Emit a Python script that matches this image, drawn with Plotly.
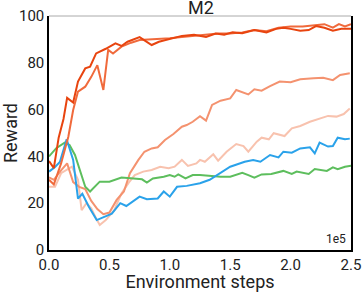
import plotly.graph_objects as go

# x in units of 1e5 environment steps
red_x = [0, 0.04, 0.08, 0.12, 0.15, 0.2, 0.24, 0.30, 0.34, 0.39, 0.47, 0.55, 0.60, 0.65, 0.75, 0.85, 0.91, 0.99, 1.1, 1.2, 1.3, 1.38, 1.45, 1.52, 1.6, 1.7, 1.8, 1.88, 1.94, 2.0, 2.08, 2.15, 2.21, 2.28, 2.35, 2.42, 2.5]
red_y = [38, 35, 48, 56, 65, 63, 72, 77.6, 78.3, 84, 86, 88.3, 87.2, 89, 91, 87.6, 89, 90, 91.5, 92, 91, 92.5, 92, 93, 92.6, 94, 93, 94.5, 95, 94.5, 93.7, 94, 95.7, 95, 93.7, 94.5, 94.5]

org_x = [0, 0.04, 0.1, 0.13, 0.16, 0.2, 0.24, 0.3, 0.35, 0.4, 0.45, 0.49, 0.53, 0.6, 0.68, 0.75, 0.86, 1.0, 1.1, 1.2, 1.3, 1.4, 1.5, 1.6, 1.7, 1.8, 1.9, 2.0, 2.1, 2.2, 2.28, 2.35, 2.4, 2.45, 2.5]
org_y = [30, 28, 37, 43, 48.4, 59.8, 67.7, 69.8, 74, 79, 68.4, 85.5, 84, 86.9, 88.6, 89.7, 90, 90.5, 91, 91.5, 92, 92.5, 92.5, 93, 94, 93.5, 95, 95.5, 95.5, 96, 96.5, 95, 96.5, 95.5, 96.5]

mid_x = [0, 0.04, 0.1, 0.15, 0.2, 0.25, 0.3, 0.35, 0.4, 0.45, 0.5, 0.56, 0.62, 0.67, 0.74, 0.79, 0.85, 0.9, 0.96, 1.03, 1.1, 1.14, 1.19, 1.25, 1.3, 1.35, 1.42, 1.5, 1.55, 1.65, 1.7, 1.76, 1.83, 1.91, 2.0, 2.08, 2.19, 2.27, 2.35, 2.41, 2.49]
mid_y = [31, 30, 34, 37, 29, 27, 26, 21, 17.5, 15.3, 16, 21.4, 25, 32.8, 38.5, 42, 43.4, 43.9, 47, 49.6, 52.7, 53.4, 54.8, 57.2, 55.3, 62, 63.8, 64.8, 68.4, 66.5, 68.7, 68.1, 70, 72, 71.7, 73, 73.4, 73.6, 72.6, 74.8, 75.5]

lt_x = [0, 0.05, 0.1, 0.15, 0.19, 0.24, 0.27, 0.31, 0.35, 0.39, 0.42, 0.47, 0.54, 0.6, 0.66, 0.71, 0.78, 0.85, 0.92, 0.99, 1.04, 1.1, 1.15, 1.22, 1.25, 1.29, 1.36, 1.4, 1.47, 1.55, 1.61, 1.65, 1.72, 1.76, 1.82, 1.86, 1.91, 1.95, 2.01, 2.08, 2.16, 2.24, 2.31, 2.38, 2.44, 2.49]
lt_y = [27, 27, 32.8, 34.5, 35.6, 30, 17, 20, 17.8, 13.5, 10.7, 12.8, 17, 24.2, 28.8, 32, 33.5, 34.2, 35.6, 34.9, 35.6, 38.5, 35.9, 37, 38.5, 37.7, 40.9, 38.2, 42, 45.3, 44.4, 42, 46.3, 48, 47.3, 49.9, 49.1, 48.7, 52, 53, 54.8, 56.3, 57.3, 57, 58.1, 60.5]

blue_x = [0, 0.05, 0.09, 0.146, 0.2, 0.24, 0.276, 0.33, 0.395, 0.45, 0.52, 0.59, 0.64, 0.75, 0.81, 0.9, 0.95, 1.0, 1.06, 1.14, 1.25, 1.33, 1.42, 1.5, 1.62, 1.69, 1.75, 1.83, 1.9, 1.94, 2.01, 2.08, 2.16, 2.2, 2.24, 2.31, 2.35, 2.39, 2.45, 2.49]
blue_y = [33.5, 35.5, 37.6, 47.3, 38.5, 22, 24, 18.5, 12.8, 14, 15.5, 20, 18.8, 22.8, 21.7, 22, 25, 22.8, 27, 27.4, 28.5, 30, 32.8, 35.6, 37.7, 38.5, 37.7, 40.6, 39.6, 42, 41.6, 43.4, 43.9, 41.3, 45.9, 44.2, 44.4, 48, 47.3, 47.6]

grn_x = [0, 0.06, 0.13, 0.17, 0.215, 0.257, 0.3, 0.34, 0.38, 0.42, 0.5, 0.6, 0.7, 0.77, 0.81, 0.86, 0.95, 1.0, 1.04, 1.07, 1.13, 1.19, 1.25, 1.33, 1.42, 1.5, 1.6, 1.65, 1.7, 1.76, 1.84, 1.94, 2.01, 2.05, 2.15, 2.2, 2.3, 2.35, 2.39, 2.45, 2.5]
grn_y = [40, 43.5, 45.9, 44.9, 40.6, 34.2, 27, 25, 27, 29.2, 29.2, 31, 30.6, 30.2, 28.8, 30.6, 31.3, 32, 31.3, 32.3, 30.6, 32, 32, 31.6, 31.3, 31.3, 33, 32, 30.9, 32.3, 32.5, 33.8, 32.5, 33.5, 32.5, 34.6, 33.8, 35.3, 34.5, 35.6, 36]

x_ticks = [0, 0.5, 1.0, 1.5, 2.0, 2.5]
x_labels = ["0.0", "0.5", "1.0", "1.5", "2.0", "2.5"]
y_ticks = [0, 20, 40, 60, 80, 100]

series = [
    (lt_x, lt_y, "#f8c2ae"),
    (mid_x, mid_y, "#f4926f"),
    (grn_x, grn_y, "#5dbe5d"),
    (blue_x, blue_y, "#2aa2ea"),
    (org_x, org_y, "#f06a3c"),
    (red_x, red_y, "#e8440f"),
]

fig = go.Figure()
for xs, ys, c in series:
    fig.add_trace(go.Scatter(x=xs, y=ys, mode="lines", line=dict(color=c, width=2), showlegend=False,
                             hoverinfo="skip"))

font = "Roboto, 'Liberation Sans', Arial, sans-serif"
fig.update_layout(
    width=364, height=292,
    margin=dict(l=49, r=13, t=16, b=42),
    paper_bgcolor="white", plot_bgcolor="white",
    font=dict(family=font, color="#222", size=15),
    title=dict(text="M2", x=0.552, xanchor="center", y=0.995, yanchor="top", font=dict(size=18, color="#222")),
    xaxis=dict(range=[0, 2.5], tickvals=x_ticks, ticktext=x_labels, showgrid=False, zeroline=False,
               showline=True, linecolor="black", linewidth=1.5, ticks="", tickfont=dict(size=15),
               automargin=False,
               title=dict(text="Environment steps", font=dict(size=18), standoff=1)),
    yaxis=dict(range=[0, 100], tickvals=y_ticks, showgrid=False, zeroline=False,
               showline=True, linecolor="black", linewidth=1.5, mirror=True, ticks="", tickfont=dict(size=15),
               automargin=False,
               title=dict(text="Reward", font=dict(size=18), standoff=2)),
    shapes=[dict(type="line", xref="paper", yref="paper", x0=0, x1=1, y0=1, y1=1,
                 line=dict(color="#aaaaaa", width=1))],
    annotations=[dict(text="1e5", xref="paper", yref="paper", x=0.99, y=0.01, xanchor="right", yanchor="bottom",
                      showarrow=False, font=dict(size=12, color="#222"))],
)

fig.write_html("out.html", config={"displayModeBar": False},
               post_script="document.body.style.margin='0px';")
